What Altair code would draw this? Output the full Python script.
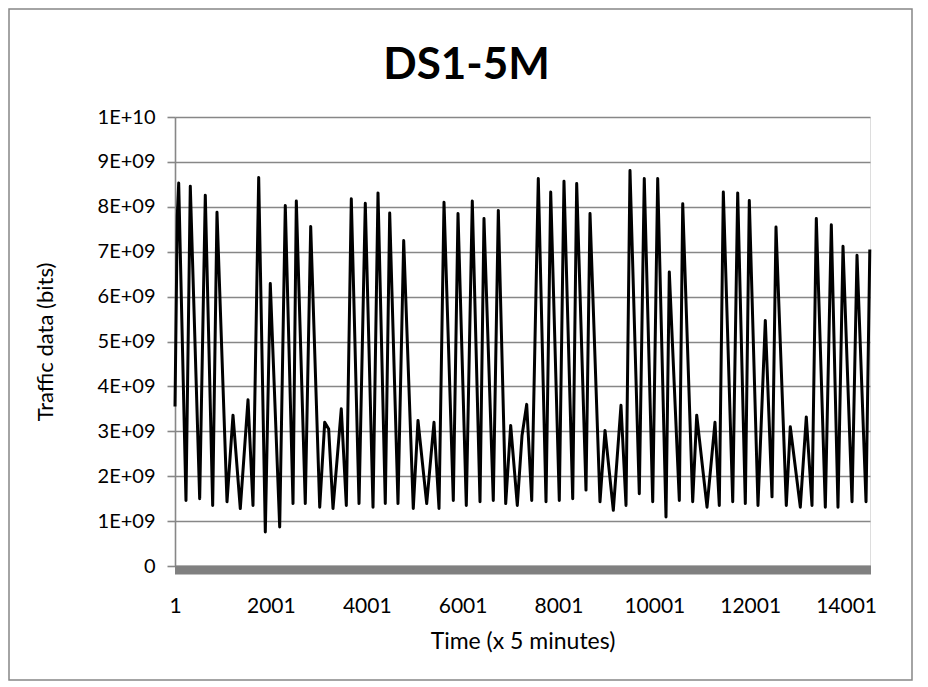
import altair as alt
import pandas as pd

# ---- data (time index, traffic in units of 1E+09 bits) ----
time_index = [
    1, 49, 78, 230, 320, 516, 633, 787, 877, 1086,
    1211, 1363, 1524, 1628, 1747, 1885, 1989, 2185, 2302, 2463,
    2532, 2719, 2832, 3020, 3124, 3207, 3297, 3470, 3575, 3679,
    3840, 3971, 4132, 4236, 4388, 4480, 4653, 4772, 4972, 5070,
    5252, 5404, 5509, 5613, 5807, 5905, 6078, 6203, 6364, 6447,
    6641, 6746, 6900, 7004, 7142, 7240, 7338, 7443, 7580, 7741,
    7839, 8018, 8116, 8298, 8381, 8575, 8659, 8867, 8972, 9145,
    9305, 9410, 9493, 9687, 9791, 9967, 10071, 10244, 10313, 10522,
    10593, 10801, 10885, 11100, 11266, 11356, 11440, 11636, 11740, 11899,
    11982, 12163, 12316, 12456, 12539, 12754, 12837, 13046, 13171, 13290,
    13380, 13568, 13693, 13832, 13937, 14125, 14229, 14417, 14496,
]
traffic_e9 = [
    3.55, 7.80, 8.53, 1.46, 8.46, 1.50, 8.26, 1.35, 7.88, 1.43,
    3.36, 1.28, 3.70, 1.35, 8.65, 0.76, 6.29, 0.87, 8.03, 1.39,
    8.13, 1.39, 7.56, 1.31, 3.20, 3.05, 1.28, 3.50, 1.35, 8.18,
    1.39, 8.08, 1.31, 8.31, 1.39, 7.86, 1.39, 7.25, 1.28, 3.24,
    1.39, 3.20, 1.28, 8.10, 1.46, 7.85, 1.35, 8.13, 1.43, 7.74,
    1.46, 7.92, 1.39, 3.13, 1.35, 2.90, 3.60, 1.46, 8.63, 1.43,
    8.33, 1.46, 8.57, 1.50, 8.52, 1.69, 7.85, 1.43, 3.02, 1.24,
    3.58, 1.35, 8.81, 1.61, 8.63, 1.43, 8.63, 1.09, 6.55, 1.46,
    8.07, 1.43, 3.36, 1.31, 3.20, 1.35, 8.33, 1.43, 8.31, 1.39,
    8.14, 1.35, 5.47, 1.54, 7.55, 1.35, 3.10, 1.31, 3.32, 1.35,
    7.74, 1.31, 7.60, 1.31, 7.12, 1.43, 6.92, 1.43, 7.05,
]

x_tick_values = [1, 2001, 4001, 6001, 8001, 10001, 12001, 14001]
y_tick_values = [0, 1e9, 2e9, 3e9, 4e9, 5e9, 6e9, 7e9, 8e9, 9e9, 1e10]
y_tick_labels = ["0", "1E+09", "2E+09", "3E+09", "4E+09", "5E+09",
                 "6E+09", "7E+09", "8E+09", "9E+09", "1E+10"]
x_domain = [1, 14500]
y_domain = [0, 1e10]

chart_title = "DS1-5M"
x_title = "Time (x 5 minutes)"
y_title = "Traffic data (bits)"

df = pd.DataFrame({"t": time_index, "bits": [v * 1e9 for v in traffic_e9]})

# ---- styling ----
W, H = 695, 449
FONT = "Lato"
GREY = "#878787"

label_expr = "''"
for val, lab in zip(y_tick_values, y_tick_labels):
    label_expr = f"datum.value == {int(val)} ? '{lab}' : ({label_expr})"

line = alt.Chart(df).mark_line(color="black", strokeWidth=3, strokeJoin="round").encode(
    x=alt.X(
        "t:Q",
        scale=alt.Scale(domain=x_domain, nice=False, zero=False),
        axis=alt.Axis(
            values=x_tick_values, format="d", ticks=False, domain=False, grid=False,
            labelFont=FONT, labelFontSize=21, labelColor="black", labelPadding=29,
            labelFlush=False, labelOverlap=False,
            title=x_title, titleFont=FONT, titleFontSize=23, titleFontWeight="normal",
            titleColor="black", titleY=75, titleBaseline="middle",
        ),
    ),
    y=alt.Y(
        "bits:Q",
        scale=alt.Scale(domain=y_domain, nice=False),
        axis=alt.Axis(
            values=y_tick_values, labelExpr=label_expr,
            grid=True, gridColor=GREY, gridWidth=1.6,
            tickColor=GREY, tickSize=8, tickWidth=1.6,
            domainColor=GREY, domainWidth=1.6,
            labelFont=FONT, labelFontSize=20, labelColor="black", labelPadding=12,
            labelFlush=False, labelOverlap=False,
            title=y_title, titleFont=FONT, titleFontSize=22, titleFontWeight="normal",
            titleColor="black", titleAngle=-90, titleX=-130, titleY=H / 2,
            titleBaseline="middle", titleAlign="center",
        ),
    ),
)

deco = pd.DataFrame({"k": [0]})
axis_bar = alt.Chart(deco).mark_rect(color="#808080").encode(
    x=alt.value(0), x2=alt.value(W + 1), y=alt.value(H - 0.5), y2=alt.value(H + 8.5)
)
frame = alt.Chart(deco).mark_rect(fill="white", fillOpacity=0, stroke=GREY, strokeWidth=1.5).encode(
    x=alt.value(9 - 175), x2=alt.value(912 - 175), y=alt.value(9 - 117), y2=alt.value(680 - 117)
)

chart = alt.layer(frame, line, axis_bar).properties(
    width=W,
    height=H,
    autosize=alt.AutoSizeParams(type="none"),
    padding={"left": 175, "top": 117, "right": 58, "bottom": 121},
    title=alt.TitleParams(
        chart_title, font=FONT, fontSize=44, fontWeight="bold", color="black",
        anchor="middle", frame="group", dx=-56, offset=0, dy=102, baseline="middle",
    ),
).configure_view(strokeWidth=0).configure(background="white")

chart.save("out.html", embed_options={"renderer": "svg", "actions": False})
